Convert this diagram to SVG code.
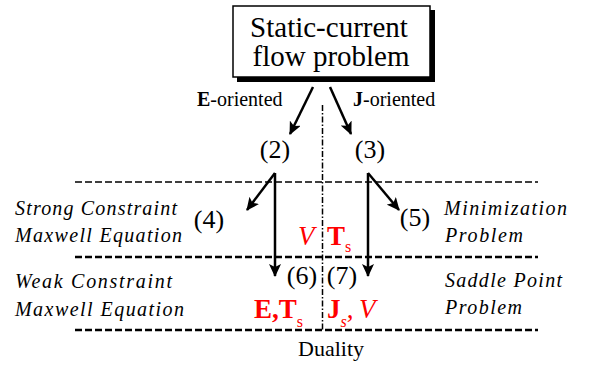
<svg xmlns="http://www.w3.org/2000/svg" width="589" height="365" viewBox="0 0 589 365">
<style>
text{font-family:"Liberation Serif","Times New Roman",serif;fill:#000}
.it{font-style:italic;font-size:20px}
.num{font-size:26px;text-anchor:middle}
.red{fill:#ff0000}
.b{font-weight:bold}
.arrow{stroke:#000;stroke-width:2.5;fill:none;marker-end:url(#ah)}
.dash1{stroke:#000;stroke-width:1.5;stroke-dasharray:7 3;fill:none}
.dash2{stroke:#000;stroke-width:2.5;stroke-dasharray:7 3;fill:none}
.dd{stroke:#000;stroke-width:1.5;stroke-dasharray:6 2 1.5 2;fill:none}
</style>
<defs>
<marker id="ah" markerUnits="userSpaceOnUse" markerWidth="14" markerHeight="12" refX="12" refY="6" orient="auto">
<path d="M0,0 L13,6 L0,12 L3,6 Z" fill="#000"/>
</marker>
</defs>
<rect width="589" height="365" fill="#fff"/>
<g id="node-problem">
<rect x="237" y="10" width="198" height="72" fill="#000"/>
<rect x="233" y="6" width="197" height="71" fill="#fff" stroke="#000" stroke-width="1.5"/>
<text x="329" y="37" font-size="29" text-anchor="middle">Static-current</text>
<text x="331" y="66" font-size="29" text-anchor="middle">flow problem</text>
</g>
<g id="guides">
<line class="dash1" x1="75" y1="182" x2="538" y2="182"/>
<line class="dash2" x1="75" y1="257" x2="538" y2="257"/>
<line class="dash2" x1="75" y1="330" x2="538" y2="330"/>
<line class="dd" x1="322.5" y1="105" x2="322.5" y2="330"/>
</g>
<g id="connectors">
<line class="arrow" x1="313" y1="87" x2="290" y2="134"/>
<line class="arrow" x1="330" y1="87" x2="351" y2="134"/>
<line class="arrow" x1="275" y1="173" x2="247" y2="210"/>
<line class="arrow" x1="275" y1="173" x2="275" y2="276"/>
<line class="arrow" x1="368" y1="173" x2="399" y2="210"/>
<line class="arrow" x1="368" y1="173" x2="368" y2="276"/>
</g>
<g id="label-e-oriented"><text x="197" y="106" font-size="20"><tspan class="b">E</tspan>-oriented</text></g>
<g id="label-j-oriented"><text x="353" y="106" font-size="20"><tspan class="b">J</tspan>-oriented</text></g>
<g id="node-2"><text class="num" x="275" y="158">(2)</text></g>
<g id="node-3"><text class="num" x="370" y="158">(3)</text></g>
<g id="node-4"><text class="num" x="209" y="228">(4)</text></g>
<g id="node-5"><text class="num" x="415" y="226">(5)</text></g>
<g id="node-6"><text class="num" x="302" y="284">(6)</text></g>
<g id="node-7"><text class="num" x="342" y="284">(7)</text></g>
<g id="label-strong">
<text class="it" x="15" y="215" textLength="162" lengthAdjust="spacing">Strong Constraint</text>
<text class="it" x="15" y="242" textLength="167" lengthAdjust="spacing">Maxwell Equation</text>
</g>
<g id="label-weak">
<text class="it" x="15" y="288" textLength="157" lengthAdjust="spacing">Weak Constraint</text>
<text class="it" x="15" y="316" textLength="169" lengthAdjust="spacing">Maxwell Equation</text>
</g>
<g id="label-min">
<text class="it" x="444" y="215" textLength="123" lengthAdjust="spacing">Minimization</text>
<text class="it" x="445" y="242" textLength="78" lengthAdjust="spacing">Problem</text>
</g>
<g id="label-saddle">
<text class="it" x="445" y="287" textLength="117" lengthAdjust="spacing">Saddle Point</text>
<text class="it" x="445" y="314" textLength="77" lengthAdjust="spacing">Problem</text>
</g>
<g id="label-vts">
<text x="298" y="245" font-size="27" class="red"><tspan font-style="italic">V</tspan><tspan x="327" class="b">T</tspan><tspan font-size="16" dy="7">s</tspan></text>
</g>
<g id="label-ets">
<text x="254" y="318" font-size="27" class="red"><tspan class="b">E,T</tspan><tspan font-size="16" dy="9">s</tspan></text>
</g>
<g id="label-jsv">
<text x="327" y="318" font-size="27" class="red"><tspan class="b">J</tspan><tspan font-size="16" dy="9" font-style="italic">s</tspan><tspan dy="-9">,</tspan><tspan x="359" font-style="italic">V</tspan></text>
</g>
<g id="label-duality"><text x="331" y="356" font-size="22" text-anchor="middle">Duality</text></g>
</svg>
